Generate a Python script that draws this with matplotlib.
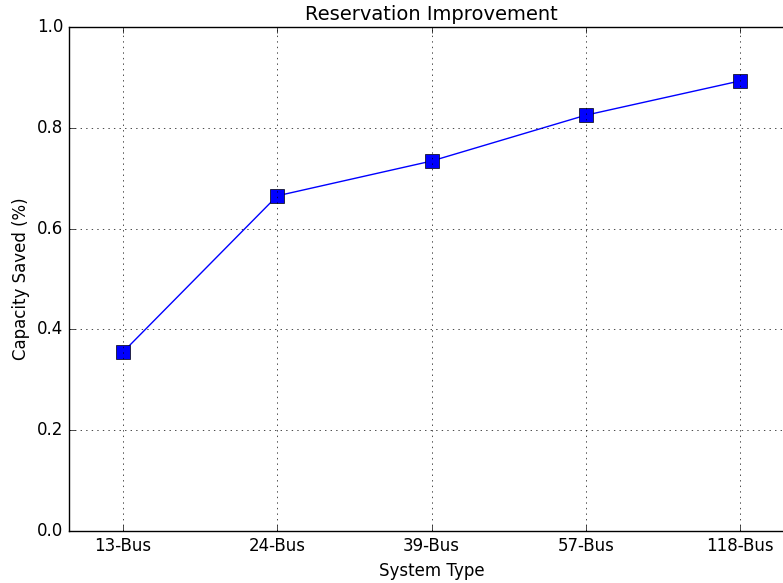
import matplotlib
matplotlib.use("Agg")
import matplotlib.pyplot as plt

systems = ['13-Bus', '24-Bus', '39-Bus', '57-Bus', '118-Bus']
saved = [0.355, 0.665, 0.734, 0.825, 0.893]

plt.style.use('classic')
fig = plt.figure(figsize=(7.83, 5.83), dpi=100, facecolor='white')
ax = fig.add_axes([69 / 783, 52 / 583, 725 / 783, 504 / 583])

x = list(range(len(systems)))
ax.plot(x, saved, color='blue', marker='s', markersize=10,
        markerfacecolor='blue', markeredgecolor='black', linewidth=1)

ax.set_xlim(-0.35, 4.35)
ax.set_ylim(0.0, 1.0)
ax.set_xticks(x)
ax.set_xticklabels(systems)
ax.grid(True)
ax.set_title('Reservation Improvement', fontsize=14)
ax.set_xlabel('System Type', fontsize=12)
ax.set_ylabel('Capacity Saved (%)', fontsize=12)
ax.tick_params(labelsize=12)

fig.savefig('out.png', dpi=100, facecolor='white')
